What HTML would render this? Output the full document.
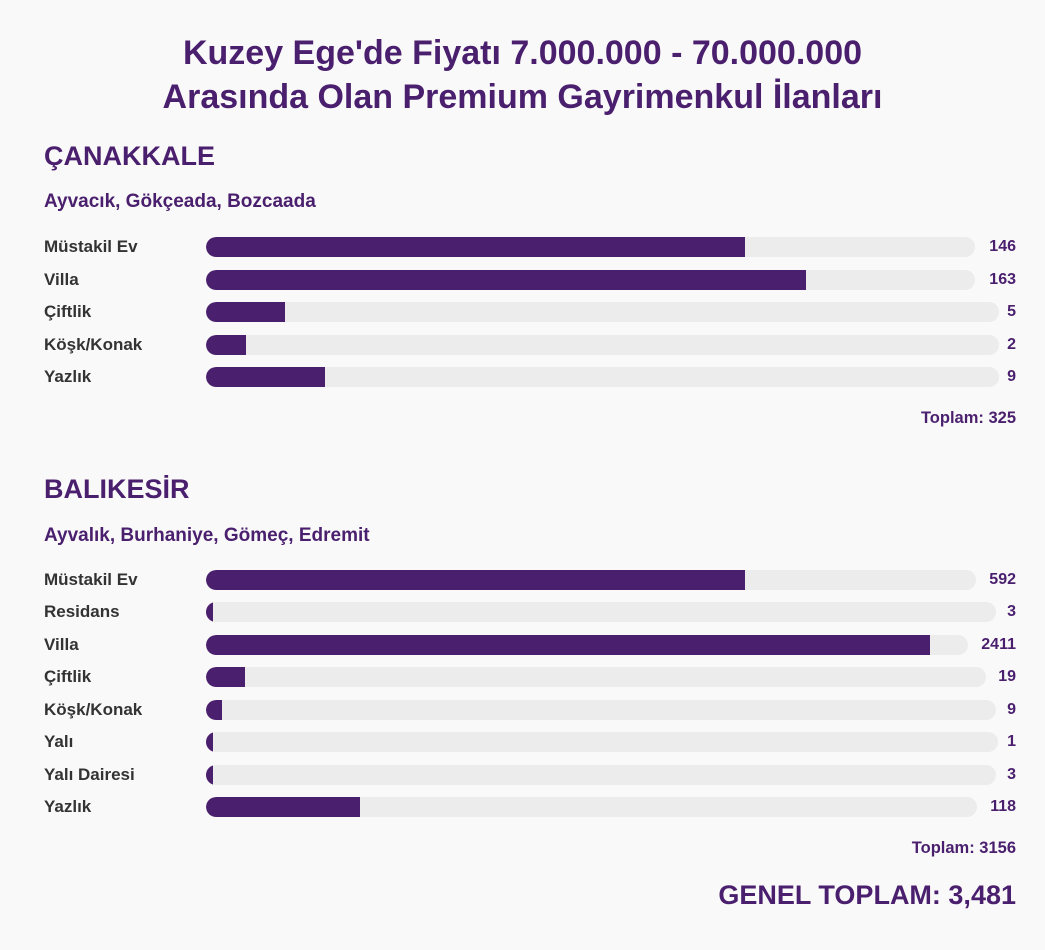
<!DOCTYPE html>
<html><head><meta charset="utf-8"><style>
body{margin:0;width:1045px;height:950px;background:#f9f9f9;font-family:"Liberation Sans",Arial,sans-serif;position:relative;overflow:hidden}
.a{position:absolute;font-weight:bold;white-space:nowrap}
.t{left:0;width:1045px;text-align:center;color:#4a1f6e;font-size:34px}
.h{left:44px;color:#4a1f6e;font-size:27px}
.s{left:44px;color:#4a1f6e;font-size:19px}
.l{left:44px;color:#333;font-size:17px}
.v{right:29px;color:#4a1f6e;font-size:16px;text-align:right}
.r{right:29px;color:#4a1f6e;font-size:16.5px}
.tr{position:absolute;left:206px;height:20px;background:#ececec;border-radius:10px;overflow:hidden}
.f{height:20px;background:#4a1f6e;border-radius:10px 0 0 10px}
</style></head><body>
<div class="a t" style="top:34px">Kuzey Ege'de Fiyatı 7.000.000 - 70.000.000</div>
<div class="a t" style="top:78px">Arasında Olan Premium Gayrimenkul İlanları</div>
<div class="a h" style="top:141px">ÇANAKKALE</div>
<div class="a s" style="top:191px">Ayvacık, Gökçeada, Bozcaada</div>

<div class="a l" style="top:237px">Müstakil Ev</div><div class="tr" style="top:237px;width:769px"><div class="f" style="width:539px"></div></div><div class="a v" style="top:238px">146</div>
<div class="a l" style="top:270px">Villa</div><div class="tr" style="top:270px;width:769px"><div class="f" style="width:600px"></div></div><div class="a v" style="top:271px">163</div>
<div class="a l" style="top:302px">Çiftlik</div><div class="tr" style="top:302px;width:793px"><div class="f" style="width:79px"></div></div><div class="a v" style="top:303px">5</div>
<div class="a l" style="top:335px">Köşk/Konak</div><div class="tr" style="top:335px;width:793px"><div class="f" style="width:40px"></div></div><div class="a v" style="top:336px">2</div>
<div class="a l" style="top:367px">Yazlık</div><div class="tr" style="top:367px;width:793px"><div class="f" style="width:119px"></div></div><div class="a v" style="top:368px">9</div>
<div class="a r" style="top:409px">Toplam: 325</div>

<div class="a h" style="top:474px">BALIKESİR</div>
<div class="a s" style="top:525px">Ayvalık, Burhaniye, Gömeç, Edremit</div>

<div class="a l" style="top:570px">Müstakil Ev</div><div class="tr" style="top:570px;width:770px"><div class="f" style="width:539px"></div></div><div class="a v" style="top:571px">592</div>
<div class="a l" style="top:602px">Residans</div><div class="tr" style="top:602px;width:790px"><div class="f" style="width:7px"></div></div><div class="a v" style="top:603px">3</div>
<div class="a l" style="top:635px">Villa</div><div class="tr" style="top:635px;width:762px"><div class="f" style="width:724px"></div></div><div class="a v" style="top:636px">2411</div>
<div class="a l" style="top:667px">Çiftlik</div><div class="tr" style="top:667px;width:780px"><div class="f" style="width:39px"></div></div><div class="a v" style="top:668px">19</div>
<div class="a l" style="top:700px">Köşk/Konak</div><div class="tr" style="top:700px;width:790px"><div class="f" style="width:16px"></div></div><div class="a v" style="top:701px">9</div>
<div class="a l" style="top:732px">Yalı</div><div class="tr" style="top:732px;width:792px"><div class="f" style="width:7px"></div></div><div class="a v" style="top:733px">1</div>
<div class="a l" style="top:765px">Yalı Dairesi</div><div class="tr" style="top:765px;width:790px"><div class="f" style="width:7px"></div></div><div class="a v" style="top:766px">3</div>
<div class="a l" style="top:797px">Yazlık</div><div class="tr" style="top:797px;width:771px"><div class="f" style="width:154px"></div></div><div class="a v" style="top:798px">118</div>
<div class="a r" style="top:839px">Toplam: 3156</div>
<div class="a r" style="top:880px;font-size:27px">GENEL TOPLAM: 3,481</div>
</body></html>
